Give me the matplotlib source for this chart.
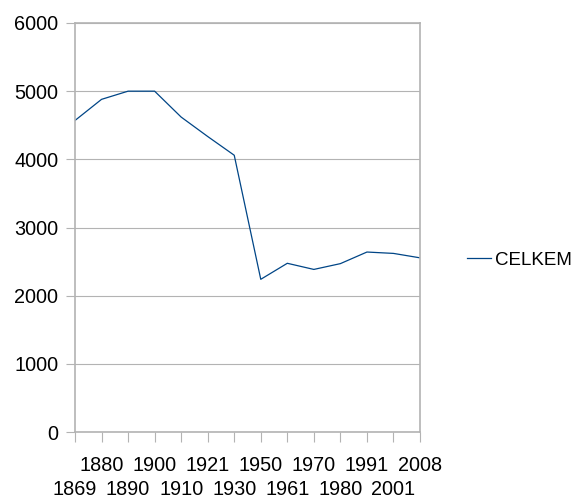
import numpy as np
import matplotlib
matplotlib.use('Agg')
import matplotlib.pyplot as plt

plt.rcParams['font.family'] = ['Liberation Sans', 'DejaVu Sans']

# population by census year
years = ['1869', '1880', '1890', '1900', '1910', '1921', '1930',
         '1950', '1961', '1970', '1980', '1991', '2001', '2008']
celkem = [4570, 4880, 5000, 5000, 4620, 4335, 4060,
          2240, 2475, 2385, 2470, 2640, 2620, 2555]
yticks = [0, 1000, 2000, 3000, 4000, 5000, 6000]

grid_col = '#b3b3b3'
line_col = '#004586'

fig = plt.figure(figsize=(5.76, 5.0), dpi=100)
ax = fig.add_axes([75 / 576, 1 - 432 / 500, 345 / 576, 409 / 500])

x = np.arange(len(years))
ax.plot(x, celkem, color=line_col, lw=0.9, label='CELKEM')

ax.set_xlim(0, len(years) - 1)
ax.set_ylim(0, 6000)
ax.set_yticks(yticks)
ax.set_yticklabels([str(v) for v in yticks])
ax.yaxis.grid(True, color=grid_col, lw=0.8)
ax.set_axisbelow(True)

# staggered category labels: odd ones on the upper row (major),
# even ones on the lower row (minor, larger pad)
ax.set_xticks(x[1::2])
ax.set_xticklabels(years[1::2])
ax.set_xticks(x[0::2], minor=True)
ax.set_xticklabels(years[0::2], minor=True)

for s in ax.spines.values():
    s.set_color(grid_col)
    s.set_linewidth(1.2)

ax.tick_params(axis='y', length=6.5, width=0.8, color=grid_col, pad=5.5, labelsize=14.3)
ax.tick_params(axis='x', which='major', length=7, width=0.8, color=grid_col,
               pad=10.5, labelsize=14.3)
ax.tick_params(axis='x', which='minor', length=7, width=0.8, color=grid_col,
               pad=27.5, labelsize=14.3)

fig.legend(loc='center left', bbox_to_anchor=(467 / 576, 1 - 260 / 500),
           frameon=False, handlelength=1.28, handletextpad=0.22, fontsize=13.5,
           borderaxespad=0, borderpad=0)

fig.savefig('out.png', dpi=100)
